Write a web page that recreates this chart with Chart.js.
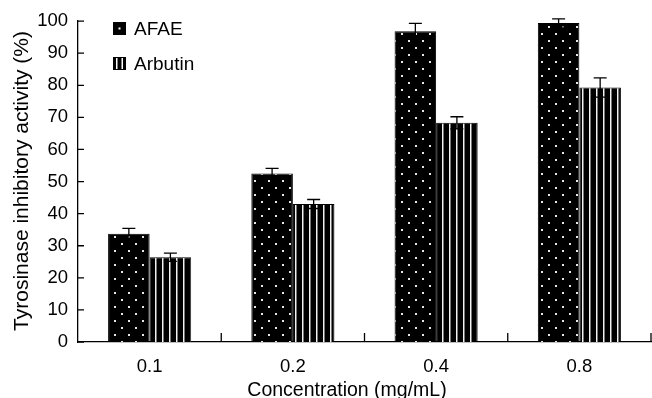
<!DOCTYPE html>
<html>
<head>
<meta charset="utf-8">
<script src="https://cdn.jsdelivr.net/npm/chart.js@4.4.1/dist/chart.umd.min.js"></script>
<style>
  html, body { margin: 0; padding: 0; background: #fff; }
  #chartCanva { display: block; }
</style>
</head>
<body>
<canvas id="chartCanva" width="652" height="398"></canvas>
<script>
// Concentrations (mg/mL)
const concentrations = ["0.1", "0.2", "0.4", "0.8"];

// Tyrosinase inhibitory activity (%) and error bars
const afaeValues = [33.7, 52.5, 96.8, 99.4];
const afaeErrors = [1.7, 1.6, 2.5, 1.3];
const arbutinValues = [26.4, 43.0, 68.3, 79.3];
const arbutinErrors = [1.3, 1.4, 1.9, 3.0];

// y axis tick values
const yTickValues = [0, 10, 20, 30, 40, 50, 60, 70, 80, 90, 100];

const FONT = "'Liberation Sans', Arial, sans-serif";
Chart.defaults.font.family = FONT;
Chart.defaults.color = "#000";

// black with staggered white dots
function dotPattern() {
    const c = document.createElement("canvas");
    c.width = 14;
    c.height = 14;
    const ctx = c.getContext("2d");
    ctx.fillStyle = "#000";
    ctx.fillRect(0, 0, 14, 14);
    ctx.fillStyle = "#e6e6e6";
    ctx.fillRect(2, 12, 2, 2);
    ctx.fillRect(9, 5, 2, 2);
    return ctx.createPattern(c, "repeat");
}

// black with thin white vertical stripes
function stripePattern() {
    const c = document.createElement("canvas");
    c.width = 7;
    c.height = 7;
    const ctx = c.getContext("2d");
    ctx.fillStyle = "#000";
    ctx.fillRect(0, 0, 7, 7);
    ctx.fillStyle = "#f2f2f2";
    ctx.fillRect(1, 0, 1, 7);
    ctx.fillStyle = "#777";
    ctx.fillRect(2, 0, 1, 7);
    return ctx.createPattern(c, "repeat");
}

// error bars (both directions) from each dataset's "errors" list
const errorBars = {
    id: "errorBars",
    afterDatasetsDraw(chart) {
        const ctx = chart.ctx;
        const y = chart.scales.y;
        ctx.save();
        ctx.strokeStyle = "#000";
        ctx.lineWidth = 1.3;
        chart.data.datasets.forEach((ds, i) => {
            chart.getDatasetMeta(i).data.forEach((bar, j) => {
                const top = y.getPixelForValue(ds.data[j] + ds.errors[j]);
                const bottom = y.getPixelForValue(ds.data[j] - ds.errors[j]);
                ctx.beginPath();
                ctx.moveTo(bar.x, top);
                ctx.lineTo(bar.x, bottom);
                ctx.moveTo(bar.x - 6.5, top);
                ctx.lineTo(bar.x + 6.5, top);
                ctx.moveTo(bar.x - 6.5, bottom);
                ctx.lineTo(bar.x + 6.5, bottom);
                ctx.stroke();
            });
        });
        ctx.restore();
    },
};

// inward tick marks on both axes
const inwardTicks = {
    id: "inwardTicks",
    afterDraw(chart) {
        const ctx = chart.ctx;
        const { left, bottom } = chart.chartArea;
        const x = chart.scales.x;
        const y = chart.scales.y;
        ctx.save();
        ctx.strokeStyle = "#000";
        ctx.lineWidth = 1.3;
        ctx.beginPath();
        y.ticks.forEach((t) => {
            const py = y.getPixelForValue(t.value);
            ctx.moveTo(left, py);
            ctx.lineTo(left + 6, py);
        });
        concentrations.forEach((c, i) => {
            const px = x.getPixelForValue(i + 0.5);
            ctx.moveTo(px, bottom);
            ctx.lineTo(px, bottom - 9);
        });
        ctx.stroke();
        ctx.restore();
    },
};

// legend in the upper left of the plot, stacked
const legendBox = {
    id: "legendBox",
    afterDraw(chart) {
        const ctx = chart.ctx;
        ctx.save();
        ctx.font = "19px " + FONT;
        ctx.textBaseline = "alphabetic";
        chart.data.datasets.forEach((ds, i) => {
            const top = 22 + i * 35;
            ctx.fillStyle = "#000";
            ctx.fillRect(113, top, 13, 13);
            ctx.fillStyle = "#fff";
            if (i === 0) {
                ctx.fillRect(118.5, top + 5.5, 2, 2);
            } else {
                ctx.fillRect(116, top + 1, 1.5, 11);
                ctx.fillRect(121.5, top + 1, 1.5, 11);
            }
            ctx.fillStyle = "#000";
            ctx.fillText(ds.label, 134, top + 13);
        });
        ctx.restore();
    },
};

// axis titles
const axisTitles = {
    id: "axisTitles",
    afterDraw(chart) {
        const ctx = chart.ctx;
        ctx.save();
        ctx.fillStyle = "#000";
        ctx.textAlign = "center";
        ctx.textBaseline = "alphabetic";
        ctx.font = "19.5px " + FONT;
        ctx.fillText("Concentration (mg/mL)", 347, 396);
        ctx.translate(22, 181);
        ctx.rotate(-Math.PI / 2);
        ctx.textBaseline = "middle";
        ctx.font = "21px " + FONT;
        ctx.fillText("Tyrosinase inhibitory activity (%)", 0, 0);
        ctx.restore();
    },
};

new Chart(document.getElementById("chartCanva"), {
    type: "bar",
    data: {
        labels: concentrations,
        datasets: [
            {
                label: "AFAE",
                data: afaeValues,
                errors: afaeErrors,
                backgroundColor: dotPattern(),
                borderColor: "#000",
                borderWidth: 1,
            },
            {
                label: "Arbutin",
                data: arbutinValues,
                errors: arbutinErrors,
                backgroundColor: stripePattern(),
                borderColor: "#000",
                borderWidth: 1,
            },
        ],
    },
    options: {
        responsive: false,
        animation: false,
        devicePixelRatio: 1,
        layout: { padding: { top: 18, right: 1, left: 0, bottom: 0 } },
        datasets: { bar: { categoryPercentage: 0.58, barPercentage: 1 } },
        plugins: {
            legend: { display: false },
            tooltip: { enabled: false },
        },
        scales: {
            x: {
                grid: { display: false, drawTicks: false },
                border: { display: true, color: "#000", width: 1.3 },
                ticks: { color: "#000", font: { size: 18.5 }, padding: 14 },
                afterFit(scale) {
                    scale.height = 56;
                },
            },
            y: {
                min: 0,
                max: 100,
                grid: { display: false, drawTicks: false },
                border: { display: true, color: "#000", width: 1.3 },
                ticks: { color: "#000", font: { size: 18.5 }, padding: 10 },
                afterBuildTicks(scale) {
                    scale.ticks = yTickValues.map((v) => ({ value: v }));
                },
                afterFit(scale) {
                    scale.width = 78;
                },
            },
        },
    },
    plugins: [errorBars, inwardTicks, legendBox, axisTitles],
});
</script>
</body>
</html>
